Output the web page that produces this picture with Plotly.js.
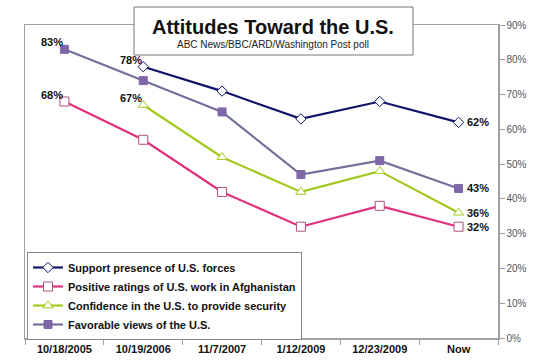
<!DOCTYPE html>
<html><head><meta charset="utf-8">
<script src="https://cdn.plot.ly/plotly-3.0.1.min.js"></script>
<style>html,body{margin:0;padding:0;background:#fff}#c{width:550px;height:363px}</style>
</head><body><div id="c"></div>
<script>
const categories = ["10/18/2005","10/19/2006","11/7/2007","1/12/2009","12/23/2009","Now"];
const support = [null,78,71,63,68,62];
const positive = [68,57,42,32,38,32];
const confidence = [null,67,52,42,48,36];
const favorable = [83,74,65,47,51,43];
const yTicks = [0,10,20,30,40,50,60,70,80,90];
const yTickLabels = yTicks.map(v => v + "%");

const traces = [
  {name:"Support presence of U.S. forces", y:support, line:{color:"#0f1466",width:2.2},
   marker:{symbol:"diamond",size:8,color:"#ffffff",line:{color:"#0f1466",width:1}}},
  {name:"Positive ratings of U.S. work in Afghanistan", y:positive, line:{color:"#e0307c",width:2.2},
   marker:{symbol:"square",size:9,color:"#ffffff",line:{color:"#b0507c",width:1}}},
  {name:"Confidence in the U.S. to provide security", y:confidence, line:{color:"#a2c81e",width:2.2},
   marker:{symbol:"triangle-up",size:9,color:"#ffffff",line:{color:"#a2c81e",width:1}}},
  {name:"Favorable views of the U.S.", y:favorable, line:{color:"#74709c",width:2.2},
   marker:{symbol:"square",size:8,color:"#7f67a8",line:{color:"#7f67a8",width:1}}}
].map(t => Object.assign({type:"scatter",mode:"lines+markers",x:categories,connectgaps:false}, t));

const lblFont = {family:"Liberation Sans, Arial, sans-serif",size:11,color:"#111"};
const ann = [];
function lab(series, i, side){
  ann.push({x:categories[i], y:series[i], text:"<b>"+series[i]+"%</b>", showarrow:false,
    xanchor: side==="l" ? "right" : "left", yanchor: side==="l" ? "bottom" : "middle",
    xshift: side==="l" ? 1 : 6, yshift: side==="l" ? -1 : 0, font:lblFont});
}
lab(favorable,0,"l"); lab(positive,0,"l"); lab(support,1,"l"); lab(confidence,1,"l");
lab(support,5,"r"); lab(favorable,5,"r"); lab(confidence,5,"r"); lab(positive,5,"r");

ann.push({xref:"paper",yref:"paper",x:(273-25)/473,y:(338-27)/313,text:"<b>Attitudes Toward the U.S.</b>",
  showarrow:false,xanchor:"center",yanchor:"middle",font:{family:"Liberation Sans, Arial, sans-serif",size:20,color:"#111"}});
ann.push({xref:"paper",yref:"paper",x:(273-25)/473,y:(338-44)/313,text:"ABC News/BBC/ARD/Washington Post poll",
  showarrow:false,xanchor:"center",yanchor:"middle",font:{family:"Liberation Sans, Arial, sans-serif",size:10,color:"#222"}});

const layout = {
  width:550,height:363,margin:{l:25,r:52,t:25,b:25},
  paper_bgcolor:"#ffffff",plot_bgcolor:"#ffffff",showlegend:true,
  xaxis:{type:"category",range:[-0.5,5.5],showline:true,linecolor:"#a0a0a0",linewidth:1.5,mirror:true,
    ticks:"outside",tickson:"boundaries",ticklen:5,tickcolor:"#a0a0a0",showgrid:false,zeroline:false,
    tickfont:{family:"Liberation Sans, Arial, sans-serif",size:11,color:"#111",weight:"bold"}},
  yaxis:{side:"right",range:[0,90],tickvals:yTicks,ticktext:yTickLabels,showline:true,linecolor:"#a0a0a0",
    linewidth:1.5,mirror:true,ticks:"outside",ticklen:5,tickcolor:"#a0a0a0",showgrid:false,zeroline:false,
    tickfont:{family:"Liberation Sans, Arial, sans-serif",size:10,color:"#555"}},
  legend:{x:(27-25)/473,y:(338-252)/313,xanchor:"left",yanchor:"top",bgcolor:"#ffffff",bordercolor:"#888",
    borderwidth:1,itemwidth:30,tracegroupgap:0,
    font:{family:"Liberation Sans, Arial, sans-serif",size:11,color:"#111",weight:"bold"}},
  shapes:[{type:"rect",xref:"paper",yref:"paper",x0:(134-25)/473,x1:(413-25)/473,y0:(338-55)/313,y1:(338-7)/313,
    fillcolor:"#ffffff",line:{color:"#777",width:1},layer:"above"}],
  annotations:ann
};
Plotly.newPlot("c",traces,layout,{displayModeBar:false,staticPlot:true});
</script></body></html>
